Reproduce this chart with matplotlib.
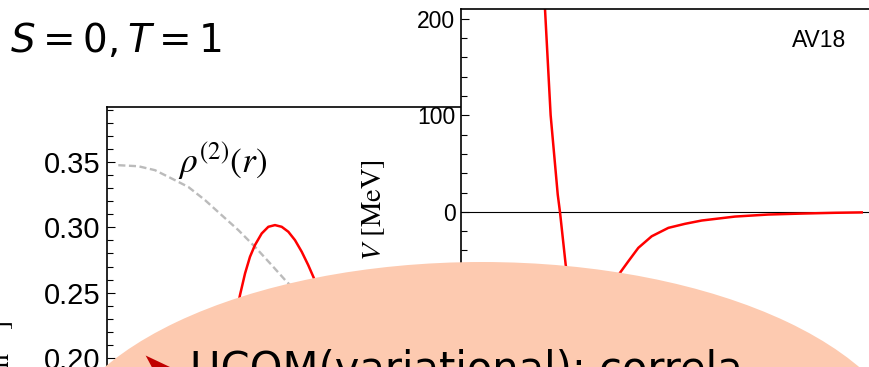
import matplotlib
matplotlib.use("Agg")
import matplotlib.pyplot as plt
from matplotlib.patches import Ellipse
from matplotlib.ticker import MultipleLocator, FormatStrFormatter

W, H = 869, 367

# two-body density (grey dashed) and correlated density (red), r in fm
r_rho = [0.087, 0.241, 0.369, 0.498, 0.625, 0.754, 0.882, 1.010, 1.138, 1.267, 1.382, 1.50, 1.62]
rho2 = [0.3475, 0.3467, 0.3437, 0.3373, 0.3309, 0.3208, 0.3093, 0.2979, 0.2851, 0.2711, 0.2584,
        0.2470, 0.2350]

r_corr = [0.97, 1.023, 1.062, 1.100, 1.138, 1.190, 1.241, 1.292, 1.344, 1.395, 1.446, 1.498,
          1.548, 1.587, 1.64]
rho_corr = [0.2220, 0.2482, 0.2648, 0.2775, 0.2864, 0.2953, 0.3004, 0.3017, 0.3004, 0.2966,
            0.2902, 0.2813, 0.2711, 0.2622, 0.2490]

# AV18 potential in the S=0, T=1 channel
r_pot = [0.60, 0.640, 0.683, 0.737, 0.754, 0.798, 0.86, 0.95, 1.05, 1.13, 1.211, 1.275, 1.351,
         1.453, 1.580, 1.707, 1.834, 2.088, 2.341, 2.596, 2.850, 3.053]
v_pot = [310, 210, 100, 17.9, 0, -55.3, -95, -108, -98, -82, -63.2, -51.2, -37.3,
         -25.3, -16.6, -12.4, -9.0, -4.9, -2.8, -1.8, -1.0, -0.6]


def rect(x0, y0, x1, y1):
    return [x0 / W, 1 - y1 / H, (x1 - x0) / W, (y1 - y0) / H]


fig = plt.figure(figsize=(W / 100, H / 100), dpi=100)

# left panel: densities
ax1 = fig.add_axes(rect(107, 107, 471, 423.5))
ax1.plot(r_rho, rho2, color="#bbbbbb", lw=1.7, ls=(0, (3.0, 1.5)))
ax1.plot(r_corr, rho_corr, color="#ff0000", lw=1.8, solid_capstyle="round")
ax1.set_xlim(0, 2.8)
ax1.set_ylim(0.15, 0.392)
ax1.yaxis.set_major_locator(MultipleLocator(0.05))
ax1.yaxis.set_minor_locator(MultipleLocator(0.01))
ax1.yaxis.set_major_formatter(FormatStrFormatter("%.2f"))
ax1.tick_params(axis="y", which="both", direction="in", left=True, right=False,
                labelsize=21, pad=5, width=0.8)
ax1.tick_params(axis="y", which="major", length=6)
ax1.tick_params(axis="y", which="minor", length=4.5)
ax1.tick_params(axis="x", which="both", top=False, direction="in", labelbottom=False)
for lab in ax1.get_yticklabels():
    lab.set_fontfamily("Liberation Sans")
for s in ax1.spines.values():
    s.set_linewidth(1.2)

# right panel: potential
ax2 = fig.add_axes(rect(461, 9, 881, 405))
ax2.set_zorder(0.5)
ax2.set_facecolor("white")
ax2.axhline(0, color="black", lw=0.8)
ax2.plot(r_pot, v_pot, color="#ff0000", lw=1.8, solid_joinstyle="round")
ax2.set_xlim(0, 3.2)
ax2.set_ylim(-200, 210)
ax2.yaxis.set_major_locator(MultipleLocator(100))
ax2.yaxis.set_minor_locator(MultipleLocator(20))
ax2.tick_params(axis="y", which="both", direction="in", left=True, right=False,
                labelsize=16.5, pad=4, width=0.8)
ax2.tick_params(axis="y", which="major", length=5.5)
ax2.tick_params(axis="y", which="minor", length=4)
ax2.tick_params(axis="x", which="both", top=False, direction="in", labelbottom=False)
for lab in ax2.get_yticklabels():
    lab.set_fontfamily("Liberation Sans")
for s in ax2.spines.values():
    s.set_linewidth(1.2)
ax2.text(792 / W, 1 - 47 / H, "AV18", transform=fig.transFigure, fontsize=16.5,
         family="Liberation Sans", va="baseline", ha="left")

fig.text(10 / W, 1 - 52 / H, r"$S=0, T=1$", fontsize=28, va="baseline", ha="left",
         math_fontfamily="dejavusans")
fig.text(178 / W, 1 - 173 / H, r"$\rho^{(2)}(r)$", fontsize=25.5, va="baseline", ha="left",
         math_fontfamily="stix")
fig.text(381 / W, 1 - 261 / H, r"$V$ [MeV]", fontsize=20.5, family="STIXGeneral",
         rotation=90, rotation_mode="anchor", ha="left", va="baseline", math_fontfamily="stix")
fig.text(10 / W, 1 - 321 / H, r"$\rho^{(2)}(r)$ [fm$^{-3}$]", fontsize=20, family="STIXGeneral",
         rotation=90, rotation_mode="anchor", ha="right", va="baseline", math_fontfamily="stix")

# highlighted bullet bubble
fig.patches.append(Ellipse((482 / W, 1 - 467 / H), 2 * 432 / W, 2 * 205 / H,
                           transform=fig.transFigure, facecolor="#fdcab0",
                           edgecolor="none", zorder=5))
fig.text(140 / W, 1 - 382 / H, "\u27a4", fontsize=30, color="#c00000",
         family="DejaVu Sans", va="baseline", ha="left", zorder=6)
fig.text(190 / W, 1 - 382 / H, "UCOM(variational): correla", fontsize=30,
         family="DejaVu Sans", va="baseline", ha="left", zorder=6)

fig.savefig("out.png", dpi=100)
